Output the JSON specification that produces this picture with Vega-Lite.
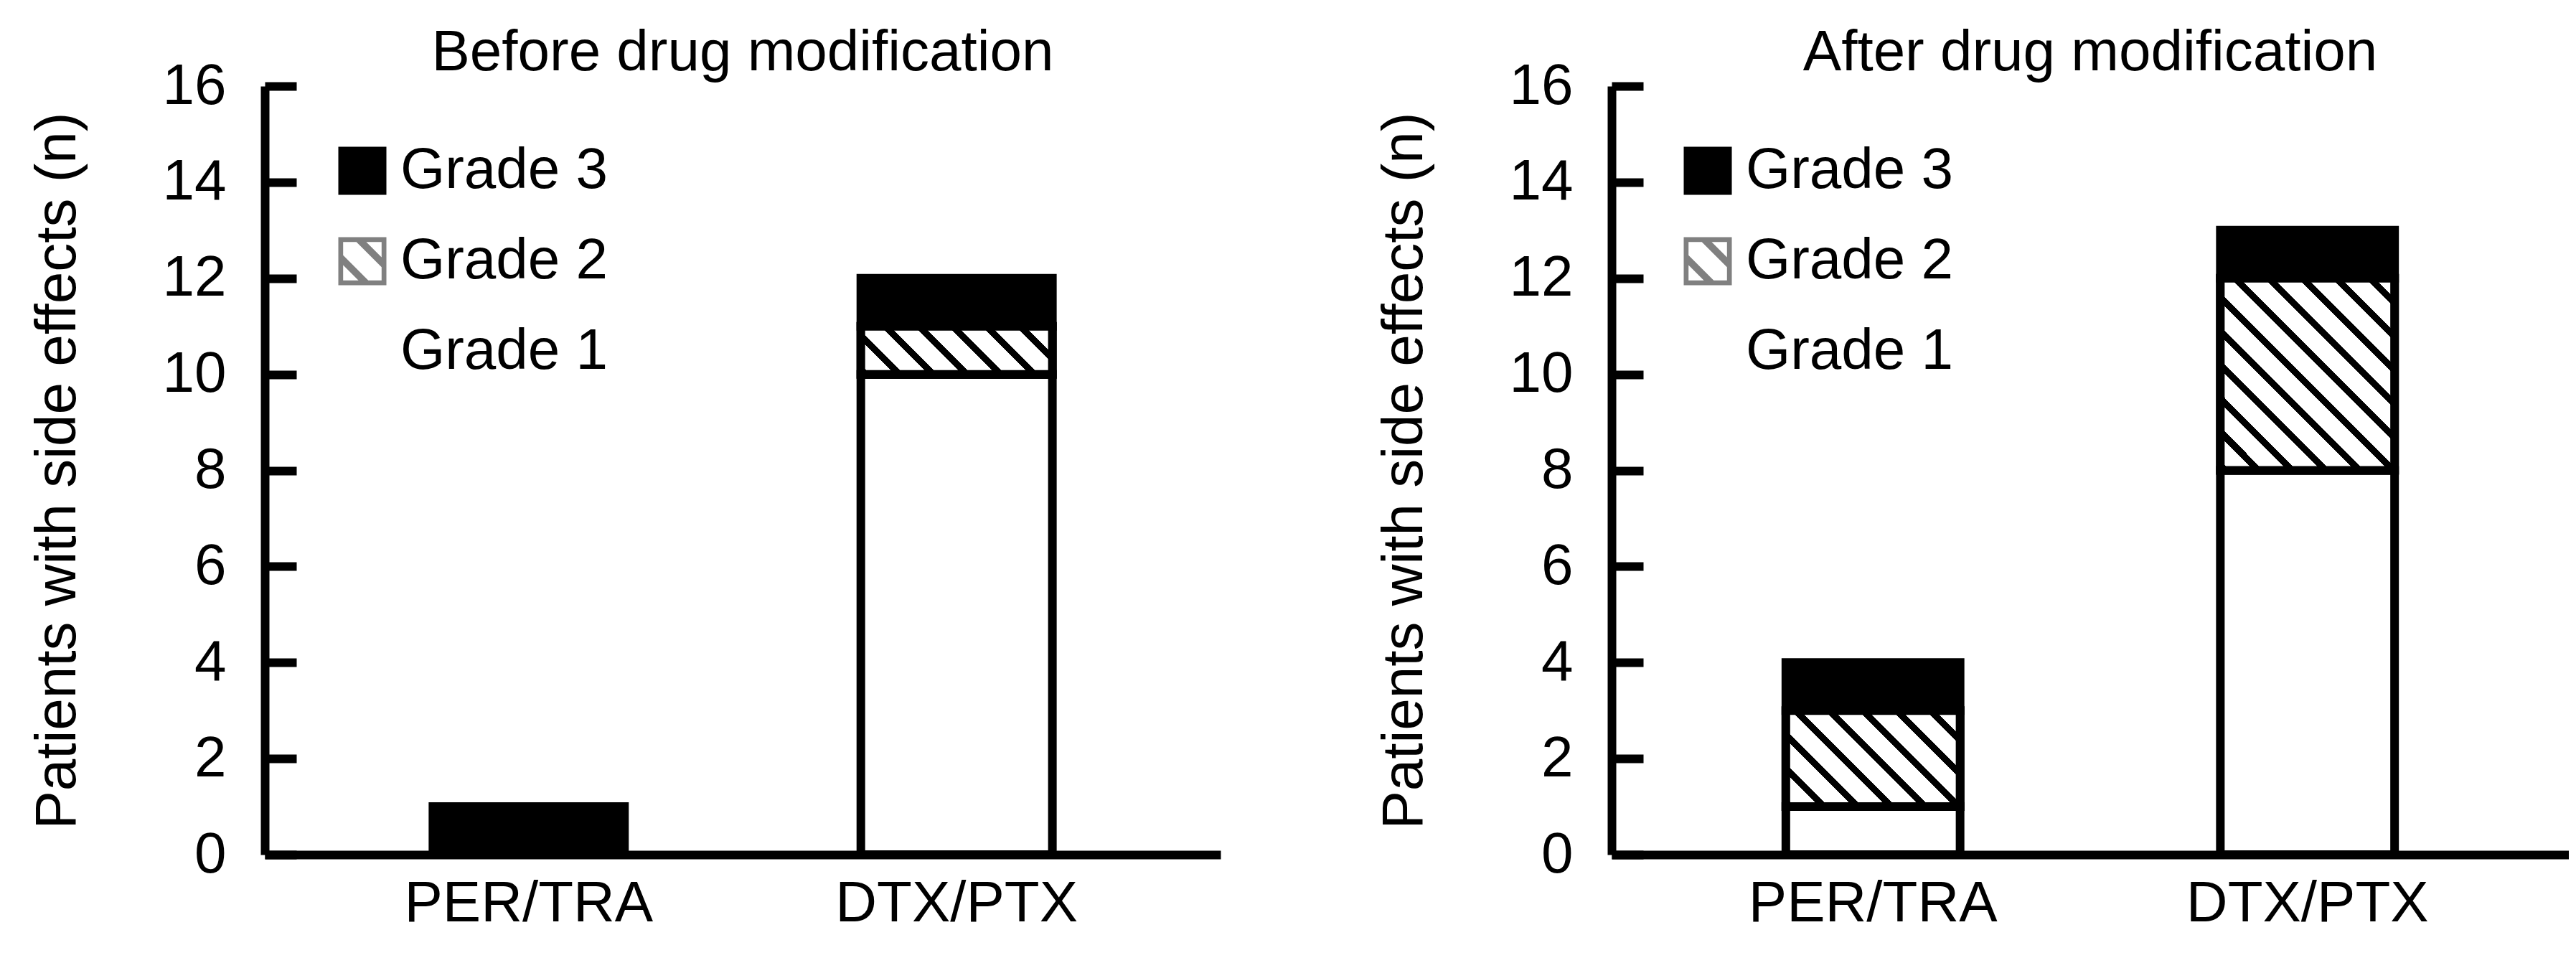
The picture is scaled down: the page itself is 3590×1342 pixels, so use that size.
{
  "$schema": "https://vega.github.io/schema/vega-lite/v6.json",
  "background": "white",
  "padding": {"left": 40, "top": 34, "right": 0, "bottom": 0},
  "config": {
    "font": "Liberation Sans",
    "view": {"stroke": null},
    "title": {"fontSize": 80, "fontWeight": "normal", "font": "Liberation Sans", "color": "black", "offset": -35},
    "axis": {"labelFont": "Liberation Sans", "titleFont": "Liberation Sans", "labelColor": "black", "titleColor": "black", "grid": false, "domainColor": "black", "tickColor": "black", "labelLimit": 1000},
    "legend": {"labelFont": "Liberation Sans", "labelLimit": 1000}
  },
  "hconcat": [
    {
      "title": "Before drug modification",
      "width": 1332,
      "height": 1071,
      "data": {"values": [
        {"drug": "PER/TRA", "grade": "Grade 1", "n": 0},
        {"drug": "PER/TRA", "grade": "Grade 2", "n": 0},
        {"drug": "PER/TRA", "grade": "Grade 3", "n": 1},
        {"drug": "DTX/PTX", "grade": "Grade 1", "n": 10},
        {"drug": "DTX/PTX", "grade": "Grade 2", "n": 1},
        {"drug": "DTX/PTX", "grade": "Grade 3", "n": 1}
      ]},
      "transform": [
        {"filter": "datum.n > 0"},
        {"stack": "n", "groupby": ["drug"], "sort": [{"field": "grade", "order": "ascending"}], "as": ["n0", "n1"]}
      ],
      "encoding": {
        "x": {"field": "drug", "type": "nominal", "sort": ["PER/TRA", "DTX/PTX"],
          "scale": {"paddingInner": 0.5524, "paddingOuter": 0.393},
          "axis": {"title": null, "labelAngle": 0, "labelFontSize": 80, "labelPadding": 29, "ticks": false, "domainWidth": 12}},
        "y": {"field": "n1", "type": "quantitative", "scale": {"domain": [0, 16], "nice": false},
          "axis": {"title": "Patients with side effects (n)", "titleFontSize": 80, "titleFontWeight": "normal", "titlePadding": 105,
            "values": [0, 2, 4, 6, 8, 10, 12, 14, 16], "labelFontSize": 80, "labelPadding": 98, "tickSize": -44, "tickWidth": 12, "domainWidth": 12}}
      },
      "layer": [
        {
          "mark": {"type": "point", "filled": true, "color": "black", "size": 1},
          "encoding": {
            "shape": {"field": "grade", "type": "nominal",
              "scale": {"domain": ["Grade 3", "Grade 2", "Grade 1"],
                "range": [
                  "M-1,-1L1,-1L1,1L-1,1Z",
                  "M-1,-1L1,-1L1,-0.8L-1,-0.8Z M-1,0.8L1,0.8L1,1L-1,1Z M-1,-0.8L-0.8,-0.8L-0.8,0.8L-1,0.8Z M0.8,-0.8L1,-0.8L1,0.8L0.8,0.8Z M-0.27,-0.82L0.14,-0.82L0.82,-0.14L0.82,0.27Z M-0.82,-0.27L0.27,0.82L-0.14,0.82L-0.82,0.14Z",
                  "M-1,-1L1,-1L1,-0.8L-1,-0.8Z M-1,0.8L1,0.8L1,1L-1,1Z M-1,-0.8L-0.8,-0.8L-0.8,0.8L-1,0.8Z M0.8,-0.8L1,-0.8L1,0.8L0.8,0.8Z"]},
              "legend": {"title": null, "orient": "none", "legendX": 96, "legendY": 78, "padding": 0,
                "symbolSize": 4489, "symbolFillColor": "black", "symbolStrokeColor": "black", "symbolStrokeWidth": 11, "symbolOpacity": 1,
                "labelFontSize": 80, "labelOffset": 13, "rowPadding": 14, "labelColor": "black"}}
          }
        },
        {
          "mark": {"type": "bar", "stroke": "black", "strokeWidth": 12},
          "encoding": {
            "y2": {"field": "n0"},
            "fill": {"field": "grade", "type": "nominal", "legend": null,
              "scale": {"domain": ["Grade 3", "Grade 2", "Grade 1"], "range": ["black", "gray", "white"]}}
          }
        },
        {
          "transform": [{"filter": "datum.drug == 'DTX/PTX' && datum.grade == 'Grade 2'"}],
          "mark": {"type": "bar", "stroke": "black", "strokeWidth": 12,
            "fill": {"gradient": "linear", "x1": 0, "y1": 1, "x2": 1.177, "y2": 0.705, "stops": [
              {"offset": 0, "color": "black"}, {"offset": 0.0394, "color": "black"}, {"offset": 0.0394, "color": "white"}, {"offset": 0.1408, "color": "white"},
              {"offset": 0.1408, "color": "black"}, {"offset": 0.1802, "color": "black"}, {"offset": 0.1802, "color": "white"}, {"offset": 0.2817, "color": "white"},
              {"offset": 0.2817, "color": "black"}, {"offset": 0.3211, "color": "black"}, {"offset": 0.3211, "color": "white"}, {"offset": 0.4225, "color": "white"},
              {"offset": 0.4225, "color": "black"}, {"offset": 0.4619, "color": "black"}, {"offset": 0.4619, "color": "white"}, {"offset": 0.5634, "color": "white"},
              {"offset": 0.5634, "color": "black"}, {"offset": 0.6028, "color": "black"}, {"offset": 0.6028, "color": "white"}, {"offset": 0.7042, "color": "white"},
              {"offset": 0.7042, "color": "black"}, {"offset": 0.7437, "color": "black"}, {"offset": 0.7437, "color": "white"}, {"offset": 0.8451, "color": "white"},
              {"offset": 0.8451, "color": "black"}, {"offset": 0.8845, "color": "black"}, {"offset": 0.8845, "color": "white"}, {"offset": 0.9859, "color": "white"},
              {"offset": 0.9859, "color": "black"}, {"offset": 1, "color": "black"}]}},
          "encoding": {"y2": {"field": "n0"}}
        }
      ]
    },
    {
      "title": "After drug modification",
      "width": 1334,
      "height": 1071,
      "data": {"values": [
        {"drug": "PER/TRA", "grade": "Grade 1", "n": 1},
        {"drug": "PER/TRA", "grade": "Grade 2", "n": 2},
        {"drug": "PER/TRA", "grade": "Grade 3", "n": 1},
        {"drug": "DTX/PTX", "grade": "Grade 1", "n": 8},
        {"drug": "DTX/PTX", "grade": "Grade 2", "n": 4},
        {"drug": "DTX/PTX", "grade": "Grade 3", "n": 1}
      ]},
      "transform": [
        {"filter": "datum.n > 0"},
        {"stack": "n", "groupby": ["drug"], "sort": [{"field": "grade", "order": "ascending"}], "as": ["n0", "n1"]}
      ],
      "encoding": {
        "x": {"field": "drug", "type": "nominal", "sort": ["PER/TRA", "DTX/PTX"],
          "scale": {"paddingInner": 0.599, "paddingOuter": 0.401},
          "axis": {"title": null, "labelAngle": 0, "labelFontSize": 80, "labelPadding": 29, "ticks": false, "domainWidth": 12}},
        "y": {"field": "n1", "type": "quantitative", "scale": {"domain": [0, 16], "nice": false},
          "axis": {"title": "Patients with side effects (n)", "titleFontSize": 80, "titleFontWeight": "normal", "titlePadding": 105,
            "values": [0, 2, 4, 6, 8, 10, 12, 14, 16], "labelFontSize": 80, "labelPadding": 98, "tickSize": -44, "tickWidth": 12, "domainWidth": 12}}
      },
      "layer": [
        {
          "mark": {"type": "point", "filled": true, "color": "black", "size": 1},
          "encoding": {
            "shape": {"field": "grade", "type": "nominal",
              "scale": {"domain": ["Grade 3", "Grade 2", "Grade 1"],
                "range": [
                  "M-1,-1L1,-1L1,1L-1,1Z",
                  "M-1,-1L1,-1L1,-0.8L-1,-0.8Z M-1,0.8L1,0.8L1,1L-1,1Z M-1,-0.8L-0.8,-0.8L-0.8,0.8L-1,0.8Z M0.8,-0.8L1,-0.8L1,0.8L0.8,0.8Z M-0.27,-0.82L0.14,-0.82L0.82,-0.14L0.82,0.27Z M-0.82,-0.27L0.27,0.82L-0.14,0.82L-0.82,0.14Z",
                  "M-1,-1L1,-1L1,-0.8L-1,-0.8Z M-1,0.8L1,0.8L1,1L-1,1Z M-1,-0.8L-0.8,-0.8L-0.8,0.8L-1,0.8Z M0.8,-0.8L1,-0.8L1,0.8L0.8,0.8Z"]},
              "legend": {"title": null, "orient": "none", "legendX": 94, "legendY": 78, "padding": 0,
                "symbolSize": 4489, "symbolFillColor": "black", "symbolStrokeColor": "black", "symbolStrokeWidth": 11, "symbolOpacity": 1,
                "labelFontSize": 80, "labelOffset": 13, "rowPadding": 14, "labelColor": "black"}}
          }
        },
        {
          "mark": {"type": "bar", "stroke": "black", "strokeWidth": 12},
          "encoding": {
            "y2": {"field": "n0"},
            "fill": {"field": "grade", "type": "nominal", "legend": null,
              "scale": {"domain": ["Grade 3", "Grade 2", "Grade 1"], "range": ["black", "gray", "white"]}}
          }
        },
        {
          "transform": [{"filter": "datum.drug == 'PER/TRA' && datum.grade == 'Grade 2'"}],
          "mark": {"type": "bar", "stroke": "black", "strokeWidth": 12,
            "fill": {"gradient": "linear", "x1": 0, "y1": 1, "x2": 1.1898, "y2": 0.3444, "stops": [
              {"offset": 0, "color": "black"}, {"offset": 0.0349, "color": "black"}, {"offset": 0.0349, "color": "white"}, {"offset": 0.1247, "color": "white"},
              {"offset": 0.1247, "color": "black"}, {"offset": 0.1596, "color": "black"}, {"offset": 0.1596, "color": "white"}, {"offset": 0.2494, "color": "white"},
              {"offset": 0.2494, "color": "black"}, {"offset": 0.2843, "color": "black"}, {"offset": 0.2843, "color": "white"}, {"offset": 0.3741, "color": "white"},
              {"offset": 0.3741, "color": "black"}, {"offset": 0.409, "color": "black"}, {"offset": 0.409, "color": "white"}, {"offset": 0.4988, "color": "white"},
              {"offset": 0.4988, "color": "black"}, {"offset": 0.5337, "color": "black"}, {"offset": 0.5337, "color": "white"}, {"offset": 0.6234, "color": "white"},
              {"offset": 0.6234, "color": "black"}, {"offset": 0.6583, "color": "black"}, {"offset": 0.6583, "color": "white"}, {"offset": 0.7481, "color": "white"},
              {"offset": 0.7481, "color": "black"}, {"offset": 0.783, "color": "black"}, {"offset": 0.783, "color": "white"}, {"offset": 0.8728, "color": "white"},
              {"offset": 0.8728, "color": "black"}, {"offset": 0.9077, "color": "black"}, {"offset": 0.9077, "color": "white"}, {"offset": 0.9975, "color": "white"},
              {"offset": 0.9975, "color": "black"}, {"offset": 1, "color": "black"}]}},
          "encoding": {"y2": {"field": "n0"}}
        },
        {
          "transform": [{"filter": "datum.drug == 'DTX/PTX' && datum.grade == 'Grade 2'"}],
          "mark": {"type": "bar", "stroke": "black", "strokeWidth": 12,
            "fill": {"gradient": "linear", "x1": 0, "y1": 1, "x2": 0.9492, "y2": -0.0461, "stops": [
              {"offset": 0, "color": "black"}, {"offset": 0.0258, "color": "black"}, {"offset": 0.0258, "color": "white"}, {"offset": 0.092, "color": "white"},
              {"offset": 0.092, "color": "black"}, {"offset": 0.1178, "color": "black"}, {"offset": 0.1178, "color": "white"}, {"offset": 0.184, "color": "white"},
              {"offset": 0.184, "color": "black"}, {"offset": 0.2098, "color": "black"}, {"offset": 0.2098, "color": "white"}, {"offset": 0.276, "color": "white"},
              {"offset": 0.276, "color": "black"}, {"offset": 0.3018, "color": "black"}, {"offset": 0.3018, "color": "white"}, {"offset": 0.368, "color": "white"},
              {"offset": 0.368, "color": "black"}, {"offset": 0.3938, "color": "black"}, {"offset": 0.3938, "color": "white"}, {"offset": 0.46, "color": "white"},
              {"offset": 0.46, "color": "black"}, {"offset": 0.4858, "color": "black"}, {"offset": 0.4858, "color": "white"}, {"offset": 0.552, "color": "white"},
              {"offset": 0.552, "color": "black"}, {"offset": 0.5778, "color": "black"}, {"offset": 0.5778, "color": "white"}, {"offset": 0.644, "color": "white"},
              {"offset": 0.644, "color": "black"}, {"offset": 0.6698, "color": "black"}, {"offset": 0.6698, "color": "white"}, {"offset": 0.736, "color": "white"},
              {"offset": 0.736, "color": "black"}, {"offset": 0.7618, "color": "black"}, {"offset": 0.7618, "color": "white"}, {"offset": 0.828, "color": "white"},
              {"offset": 0.828, "color": "black"}, {"offset": 0.8538, "color": "black"}, {"offset": 0.8538, "color": "white"}, {"offset": 0.92, "color": "white"},
              {"offset": 0.92, "color": "black"}, {"offset": 0.9458, "color": "black"}, {"offset": 0.9458, "color": "white"}, {"offset": 1, "color": "white"}]}},
          "encoding": {"y2": {"field": "n0"}}
        }
      ]
    }
  ],
  "spacing": 216,
  "resolve": {"scale": {"fill": "independent", "shape": "independent", "x": "independent", "y": "independent"}, "legend": {"shape": "independent"}}
}
